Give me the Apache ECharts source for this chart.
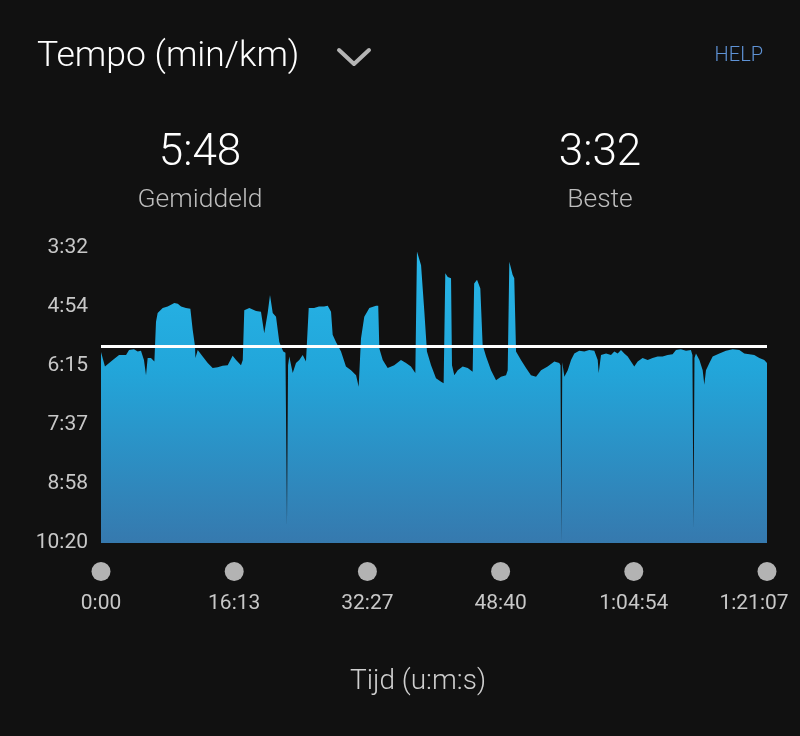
<!DOCTYPE html>
<html>
<head>
<meta charset="utf-8">
<script src="https://cdn.jsdelivr.net/npm/echarts@6/dist/echarts.min.js"></script>
<style>
html,body{margin:0;padding:0;background:#111111;}
#c{width:800px;height:736px;}
</style>
</head>
<body>
<div id="c"></div>
<script>
// elapsed time in seconds
const times = [0,29,37,86,132,183,205,241,268,292,314,329,341,365,390,402,414,451,487,536,561,585,621,653,670,687,690,707,743,780,816,853,889,926,962,987,1023,1036,1047,1084,1133,1169,1193,1218,1235,1255,1279,1303,1315,1332,1348,1359,1367,1376,1401,1425,1449,1474,1498,1518,1557,1593,1630,1657,1681,1693,1717,1754,1790,1827,1864,1883,1900,1924,1961,2010,2026,2034,2059,2095,2143,2192,2229,2265,2297,2309,2339,2363,2382,2412,2448,2485,2504,2516,2534,2558,2565,2582,2607,2643,2680,2716,2727,2748,2772,2789,2814,2850,2887,2923,2960,2972,2984,3008,3020,3033,3069,3106,3142,3179,3216,3264,3313,3349,3358,3364,3371,3386,3411,3435,3459,3495,3532,3568,3605,3630,3637,3654,3691,3727,3751,3776,3800,3824,3849,3873,3897,3922,3958,3995,4031,4068,4104,4141,4177,4202,4238,4275,4311,4322,4330,4337,4348,4373,4397,4409,4421,4446,4470,4519,4567,4616,4665,4701,4738,4774,4811,4847,4867];
// pace in seconds per km
const paces = [356,376,374,367,360,360,353,352,355,354,367,388,364,364,369,314,302,295,293,288,289,293,295,296,325,348,364,353,362,371,378,377,375,374,361,367,374,367,298,295,299,300,330,302,277,302,307,342,348,355,357,595,374,362,385,371,367,360,369,295,295,293,293,292,300,332,342,355,376,381,388,404,337,307,295,292,292,351,367,378,374,367,371,376,385,217,236,300,355,374,392,397,399,247,252,254,374,388,381,376,378,383,261,256,268,346,362,381,395,390,388,381,231,249,254,355,367,378,388,390,381,376,369,371,374,620,370,390,381,367,358,354,355,353,354,367,385,360,358,360,355,358,353,358,362,369,376,369,364,367,364,362,362,360,359,353,352,354,353,360,602,364,358,367,381,401,381,371,362,358,354,352,353,358,359,360,364,367,371];
const avgPace = 348;   // 5:48
const bestPace = 212;  // 3:32
const slowPace = 620;  // 10:20
const totalTime = 4867; // 1:21:07
const xTickLabels = ['0:00','16:13','32:27','48:40','1:04:54','1:21:07'];
const yTickLabels = ['3:32','4:54','6:15','7:37','8:58','10:20'];

const FONT = 'Roboto, "Noto Sans", sans-serif';
function fmtPace(s){ s=Math.round(s); const m=Math.floor(s/60), r=s%60; return m+':'+(r<10?'0':'')+r; }

const yRange = slowPace - bestPace;
const yStep = yRange/5;
const xStep = totalTime/5;
const seriesData = times.map((t,i)=>[t, paces[i]-bestPace]);

const chart = echarts.init(document.getElementById('c'), null, {renderer:'canvas'});
chart.setOption({
  backgroundColor:'#111111',
  animation:false,
  grid:{left:101, right:33, top:248, bottom:193, containLabel:false, outerBoundsMode:'none'},
  xAxis:{
    type:'value', min:0, max:totalTime, interval:xStep,
    axisLine:{show:false}, axisTick:{show:false}, splitLine:{show:false},
    axisLabel:{
      show:true, margin:19, showMinLabel:true, showMaxLabel:true, hideOverlap:false,
      formatter:(v)=>{ const i=Math.round(v/xStep); const st = i===xTickLabels.length-1 ? 'e' : 't'; return '{d| }\n{'+st+'|'+xTickLabels[i]+'}'; },
      rich:{
        d:{width:19,height:19,borderRadius:9.5,backgroundColor:'#b3b3b3',fontSize:1,lineHeight:19},
        t:{fontSize:21,fontFamily:FONT,color:'#c8c8c8',lineHeight:26,padding:[19,0,0,0]},
        e:{fontSize:21,fontFamily:FONT,color:'#c8c8c8',lineHeight:26,padding:[19,26,0,0]}
      }
    }
  },
  yAxis:{
    type:'value', inverse:true, min:0, max:yRange, interval:yStep,
    axisLine:{show:false}, axisTick:{show:false}, splitLine:{show:false},
    axisLabel:{
      margin:13, fontSize:21, fontFamily:FONT, color:'#c8c8c8', showMinLabel:true, showMaxLabel:true,
      formatter:(v)=>{ const i=Math.round(v/yStep); return yTickLabels[i]; }
    }
  },
  series:[{
    type:'line', data:seriesData, showSymbol:false, symbol:'none', smooth:false,
    lineStyle:{width:0,color:'#25ade0'},
    areaStyle:{origin:'end', opacity:1,
      color:new echarts.graphic.LinearGradient(0,0,0,1,[
        {offset:0,color:'#27b6e8'},
        {offset:0.4,color:'#22a6da'},
        {offset:1,color:'#3679ae'}
      ])},
    markLine:{
      silent:true, symbol:['none','none'], label:{show:false},
      lineStyle:{color:'#ffffff', width:3, type:'solid'},
      data:[{yAxis: avgPace-bestPace}]
    }
  }],
  graphic:[
    {type:'text', style:{x:37,y:57,text:'Tempo (min/km)',fill:'#ffffff',fontSize:35.5,fontFamily:FONT,fontWeight:300,align:'left',verticalAlign:'middle'}},
    {type:'polyline', shape:{points:[[339,50],[354,64],[369,50]]}, style:{stroke:'#b5b5b5',lineWidth:4,fill:null,lineCap:'round',lineJoin:'round'}},
    {type:'text', style:{x:763,y:56,text:'HELP',fill:'#5f93d6',fontSize:20,fontFamily:FONT,fontWeight:300,align:'right',verticalAlign:'middle'}},
    {type:'text', style:{x:200,y:154,text:fmtPace(avgPace),fill:'#ffffff',fontSize:44,fontFamily:FONT,fontWeight:300,align:'center',verticalAlign:'middle'}},
    {type:'text', style:{x:200,y:200,text:'Gemiddeld',fill:'#bdbdbd',fontSize:26.5,fontFamily:FONT,fontWeight:300,align:'center',verticalAlign:'middle'}},
    {type:'text', style:{x:600,y:154,text:fmtPace(bestPace),fill:'#ffffff',fontSize:44,fontFamily:FONT,fontWeight:300,align:'center',verticalAlign:'middle'}},
    {type:'text', style:{x:600,y:200,text:'Beste',fill:'#bdbdbd',fontSize:26.5,fontFamily:FONT,fontWeight:300,align:'center',verticalAlign:'middle'}},
    {type:'text', style:{x:418,y:682,text:'Tijd (u:m:s)',fill:'#cfcfcf',fontSize:28,fontFamily:FONT,fontWeight:300,align:'center',verticalAlign:'middle'}}
  ]
});
</script>
</body>
</html>
